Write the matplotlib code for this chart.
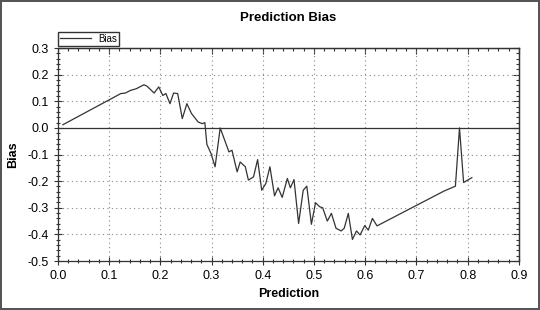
import matplotlib
matplotlib.use("Agg")
import matplotlib.pyplot as plt
from matplotlib.ticker import MultipleLocator, NullFormatter

plt.rcParams['font.family'] = ['Liberation Sans', 'DejaVu Sans']

# values
prediction = [0.01, 0.123, 0.132, 0.142, 0.153, 0.168, 0.174, 0.188, 0.197, 0.205,
              0.211, 0.219, 0.226, 0.234, 0.243, 0.252, 0.261, 0.274, 0.282, 0.287,
              0.291, 0.299, 0.307, 0.317, 0.334, 0.340, 0.350, 0.356, 0.366, 0.372,
              0.382, 0.390, 0.398, 0.406, 0.414, 0.423, 0.430, 0.438, 0.448, 0.454,
              0.461, 0.470, 0.479, 0.486, 0.495, 0.503, 0.511, 0.517, 0.526, 0.534,
              0.543, 0.553, 0.559, 0.567, 0.575, 0.583, 0.590, 0.599, 0.606, 0.614,
              0.623, 0.754, 0.776, 0.784, 0.792, 0.808]
bias = [0.012, 0.129, 0.131, 0.141, 0.147, 0.162, 0.157, 0.131, 0.154, 0.122,
        0.129, 0.091, 0.131, 0.129, 0.035, 0.091, 0.054, 0.022, 0.016, 0.02,
        -0.062, -0.096, -0.146, 0.0, -0.09, -0.084, -0.165, -0.128, -0.146, -0.196,
        -0.184, -0.119, -0.234, -0.209, -0.146, -0.255, -0.225, -0.261, -0.19, -0.225,
        -0.194, -0.359, -0.234, -0.219, -0.362, -0.281, -0.296, -0.30, -0.35, -0.321,
        -0.377, -0.387, -0.377, -0.321, -0.419, -0.387, -0.402, -0.367, -0.384, -0.34,
        -0.368, -0.237, -0.219, 0.0, -0.205, -0.187]

fig = plt.figure(figsize=(5.4, 3.1), dpi=100)
fig.patch.set_edgecolor('#555555')
fig.patch.set_linewidth(1.5)
ax = fig.add_axes([0.107, 0.158, 0.854, 0.687])

ax.plot(prediction, bias, color='#333333', lw=0.9, label='Bias')
ax.axhline(0, color='#333333', lw=0.9)

ax.set_xlim(0, 0.9)
ax.set_ylim(-0.5, 0.3)


def set_ticks(axis):
    axis.set_major_locator(MultipleLocator(0.1))
    axis.set_minor_locator(MultipleLocator(0.02))


set_ticks(ax.xaxis)
set_ticks(ax.yaxis)
ax.xaxis.set_major_formatter(plt.FuncFormatter(lambda v, p: f"{v:.1f}"))
ax.yaxis.set_major_formatter(plt.FuncFormatter(lambda v, p: f"{v:.1f}"))

ax.grid(True, which='major', linestyle=(0, (1, 3)), color='#888888', lw=0.8)
ax.tick_params(which='both', direction='inout', labelsize=9,
               color='#333333', width=0.8)
ax.tick_params(which='major', length=6)
ax.tick_params(which='minor', length=3)
for s in ax.spines.values():
    s.set_color('#333333')
    s.set_linewidth(0.9)

# inward ticks on top and right
top = ax.secondary_xaxis('top')
right = ax.secondary_yaxis('right')
for sec, axis in ((top, top.xaxis), (right, right.yaxis)):
    set_ticks(axis)
    axis.set_major_formatter(NullFormatter())
    sec.tick_params(which='both', direction='in', color='#333333', width=0.8)
    sec.tick_params(which='major', length=4)
    sec.tick_params(which='minor', length=2.5)
    for s in sec.spines.values():
        s.set_color('#333333')
        s.set_linewidth(0.9)

ax.set_xlabel('Prediction', fontweight='bold', fontsize=9, labelpad=4)
ax.set_ylabel('Bias', fontweight='bold', fontsize=9, labelpad=6)
fig.text(0.534, 0.943, 'Prediction Bias', ha='center', va='center',
         fontweight='bold', fontsize=9.5)

fig.legend(loc='upper left', bbox_to_anchor=(0.107, 0.897), fontsize=7,
           frameon=True, fancybox=False, edgecolor='#333333', framealpha=1,
           borderpad=0.2, handlelength=3.2, handletextpad=0.8, borderaxespad=0)

fig.savefig('out.png', dpi=100)
